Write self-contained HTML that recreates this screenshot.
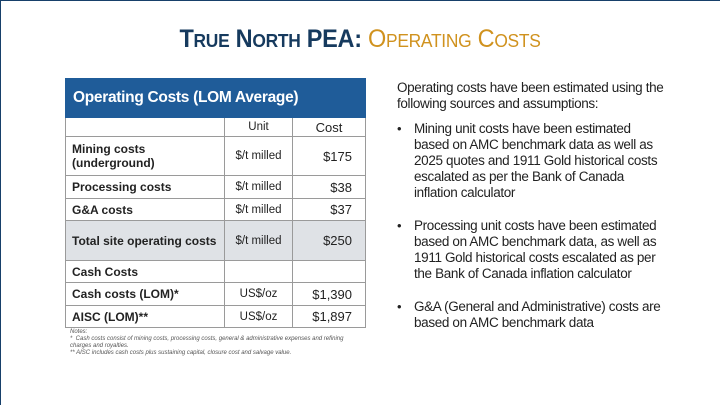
<!DOCTYPE html>
<html><head><meta charset="utf-8"><style>
*{margin:0;padding:0;box-sizing:border-box}
body{width:720px;height:405px;background:#fff;font-family:"Liberation Sans",sans-serif;position:relative;overflow:hidden}
.frame{position:absolute;left:0;top:0;width:720px;height:405px;border:1px solid #17406a;border-bottom:none;border-right:none}
.title{position:absolute;top:25px;left:0;width:720px;text-align:center;font-size:25px;font-weight:bold;color:#163a5e;transform:scaleX(0.94);letter-spacing:-0.3px}
.title .g{color:#d0921e;font-weight:normal}
.title .s{font-size:18.5px}
table{position:absolute;left:65px;top:78px;width:301px;border-collapse:collapse;font-size:12px;color:#222}
td{border:1px solid #9a9a9a;padding:0 6px;vertical-align:middle}
td.l{font-weight:bold;width:159px}
td.u{width:68px;text-align:center;font-size:11.5px}
td.c{text-align:right;padding-right:13px;font-size:13px}
.hd td{background:#1f5c99;color:#fff;font-weight:bold;font-size:15.5px;height:39px;border-color:#1f5c99;padding-left:7px;letter-spacing:-0.3px}
.gr td{background:#dfe2e6}
.notes{position:absolute;left:70px;top:329px;font-size:6px;color:#555;font-style:italic;line-height:7px}
.r{position:absolute;font-size:13.5px;color:#222;letter-spacing:-0.35px;white-space:nowrap}
.b{position:absolute;left:397px;font-size:13px;color:#222}
</style></head><body>
<div class="frame"></div>
<div class="title">T<span class="s">RUE</span> N<span class="s">ORTH</span> PEA: <span class="g">O<span class="s">PERATING</span> C<span class="s">OSTS</span></span></div>
<table>
<tr class="hd"><td colspan="3">Operating Costs (LOM Average)</td></tr>
<tr style="height:19px"><td></td><td class="u">Unit</td><td class="c" style="text-align:center;padding-right:6px">Cost</td></tr>
<tr style="height:39px"><td class="l">Mining costs<br>(underground)</td><td class="u">$/t milled</td><td class="c">$175</td></tr>
<tr style="height:23px"><td class="l">Processing costs</td><td class="u">$/t milled</td><td class="c">$38</td></tr>
<tr style="height:22px"><td class="l">G&amp;A costs</td><td class="u">$/t milled</td><td class="c">$37</td></tr>
<tr class="gr" style="height:40px"><td class="l">Total site operating costs</td><td class="u">$/t milled</td><td class="c">$250</td></tr>
<tr style="height:22px"><td class="l">Cash Costs</td><td class="u"></td><td class="c"></td></tr>
<tr style="height:23px"><td class="l">Cash costs (LOM)*</td><td class="u">US$/oz</td><td class="c">$1,390</td></tr>
<tr style="height:22px"><td class="l">AISC (LOM)**</td><td class="u">US$/oz</td><td class="c">$1,897</td></tr>
</table>
<div class="notes">Notes:<br>*&nbsp; Cash costs consist of mining costs, processing costs, general &amp; administrative expenses and refining<br>charges and royalties.<br>** AISC includes cash costs plus sustaining capital, closure cost and salvage value.</div>
<div class="r" style="left:397px;top:80px">Operating costs have been estimated using the</div>
<div class="r" style="left:397px;top:96px">following sources and assumptions:</div>
<div class="b" style="top:121px">•</div>
<div class="r" style="left:414px;top:121px">Mining unit costs have been estimated</div>
<div class="r" style="left:414px;top:137px">based on AMC benchmark data as well as</div>
<div class="r" style="left:414px;top:153px">2025 quotes and 1911 Gold historical costs</div>
<div class="r" style="left:414px;top:169px">escalated as per the Bank of Canada</div>
<div class="r" style="left:414px;top:185px">inflation calculator</div>
<div class="b" style="top:218px">•</div>
<div class="r" style="left:414px;top:218px">Processing unit costs have been estimated</div>
<div class="r" style="left:414px;top:234px">based on AMC benchmark data, as well as</div>
<div class="r" style="left:414px;top:250px">1911 Gold historical costs escalated as per</div>
<div class="r" style="left:414px;top:266px">the Bank of Canada inflation calculator</div>
<div class="b" style="top:299px">•</div>
<div class="r" style="left:414px;top:299px">G&amp;A (General and Administrative) costs are</div>
<div class="r" style="left:414px;top:315px">based on AMC benchmark data</div>
</body></html>
